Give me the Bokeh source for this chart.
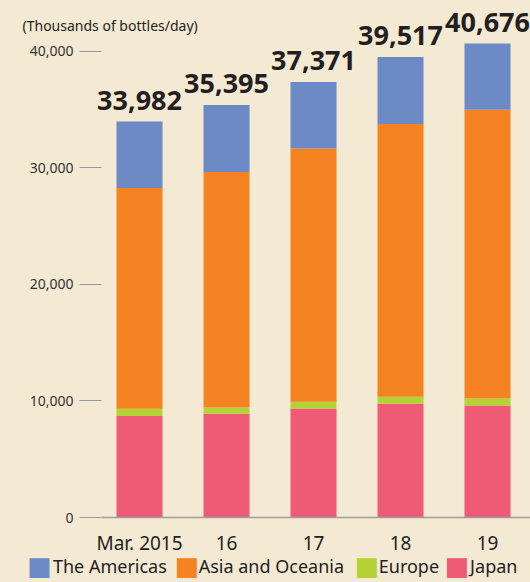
from bokeh.plotting import figure
from bokeh.models import Range1d, FixedTicker, NumeralTickFormatter, ColumnDataSource
from bokeh.embed import file_html
from bokeh.resources import INLINE
from bokeh.core.properties import value

# ---- data ----
categories = ["Mar. 2015", "16", "17", "18", "19"]
japan = [8700, 8900, 9350, 9750, 9600]
europe = [640, 530, 590, 620, 600]
asia_oceania = [18940, 20220, 21710, 23390, 24790]
americas = [5700, 5745, 5720, 5755, 5685]
totals = [33982, 35395, 37371, 39517, 40676]
total_labels = ["33,982", "35,395", "37,371", "39,517", "40,676"]
y_ticks = [0, 10000, 20000, 30000, 40000]
unit_title = "(Thousands of bottles/day)"
legend_labels = ["The Americas", "Asia and Oceania", "Europe", "Japan"]

series_names = ["Japan", "Europe", "Asia and Oceania", "The Americas"]
series_vals = [japan, europe, asia_oceania, americas]
colors = ["#ef5a75", "#b3d335", "#f58322", "#6b8ac6"]
legend_colors = ["#6b8ac6", "#f58322", "#b3d335", "#ef5a75"]

# layout of the legend row (below the frame, in data units of the axes)
legend_swatch_x = [-1.149, 0.546, 2.615, 3.649]
legend_text_x = [-0.995, 0.680, 2.750, 3.800]
legend_y = -4204

BG = "#f4e9d3"
FONT = "Noto Sans"

xs = list(range(len(categories)))
data = {"x": xs, "total": totals, "label": total_labels}
for n, v in zip(series_names, series_vals):
    data[n] = v
src = ColumnDataSource(data)

p = figure(width=530, height=582, output_backend="svg", toolbar_location=None,
           x_range=Range1d(-0.437, 4.494), y_range=Range1d(0, 44358),
           min_border_left=101, min_border_right=0, min_border_top=0,
           min_border_bottom=65)
p.background_fill_color = BG
p.border_fill_color = BG
p.outline_line_color = None
p.grid.visible = False

rs = p.vbar_stack(series_names, x="x", width=0.529, source=src,
                  color=colors, line_color=None)

p.text(x="x", y="total", text="label", source=src, text_align="center",
       text_baseline="middle", y_offset=-21, text_font=value(FONT),
       text_font_style="bold", text_font_size="27px", text_color="#231f20",
       level="overlay")

# unit title (top-left, crosses frame edge -> overlay level)
p.text(x=[-1.345], y=[42213], text=[unit_title], text_baseline="middle",
       text_align="left", text_font=value(FONT), text_font_size="14px",
       text_color="#231f20", level="overlay")

# legend row (swatches as square glyph characters)
p.text(x=legend_swatch_x, y=[legend_y] * 4, text=["\u25a0"] * 4,
       text_baseline="middle", text_align="center",
       text_font=value("DejaVu Sans"), text_font_size="26px",
       text_color=legend_colors, level="overlay")
p.text(x=legend_text_x, y=[legend_y] * 4, text=legend_labels,
       text_baseline="middle", text_align="left", text_font=value(FONT),
       text_font_size="18px", text_color="#231f20", level="overlay")

# y axis
ya = p.yaxis[0]
ya.ticker = FixedTicker(ticks=y_ticks)
ya.formatter = NumeralTickFormatter(format="0,0")
ya.axis_line_color = None
ya.major_tick_out = 22
ya.major_tick_in = 0
ya.major_tick_line_color = "#90969c"
ya.major_tick_line_width = 1.2
ya.minor_tick_line_color = None
ya.major_label_standoff = 6
ya.major_label_text_font = FONT
ya.major_label_text_font_size = "14px"
ya.major_label_text_color = "#333333"

# x axis
xa = p.xaxis[0]
xa.ticker = FixedTicker(ticks=xs)
xa.major_label_overrides = {i: c for i, c in zip(xs, categories)}
xa.axis_line_color = "#9a9ea3"
xa.axis_line_width = 1.5
xa.major_tick_line_color = None
xa.minor_tick_line_color = None
xa.major_label_standoff = 6
xa.major_label_text_font = FONT
xa.major_label_text_font_size = "19px"
xa.major_label_text_color = "#231f20"

html = file_html(p, INLINE)
html = html.replace("</head>", "<style>body{background:%s;}</style></head>" % BG, 1)
open("out.html", "w").write(html)
